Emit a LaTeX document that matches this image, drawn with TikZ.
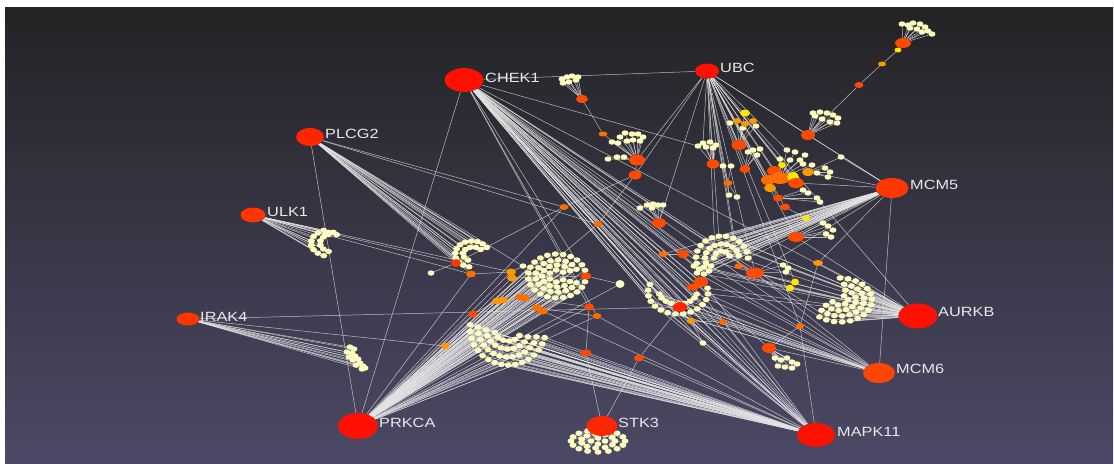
\documentclass[tikz,border=0pt]{standalone}
\usepackage{fontspec}
\newfontfamily\labfont{Liberation Sans}
\usetikzlibrary{shapes.geometric}
\pgfdeclarelayer{back}
\pgfdeclarelayer{edges}
\pgfsetlayers{back,edges,main}

\definecolor{leafc}{HTML}{FFFCC0}
\definecolor{redA}{HTML}{FF1000}
\definecolor{redB}{HTML}{FF2600}
\definecolor{redC}{HTML}{FF3600}
\definecolor{redD}{HTML}{FF4600}
\definecolor{orred}{HTML}{FF4A00}
\definecolor{orng}{HTML}{FF6C00}
\definecolor{amber}{HTML}{FF9800}
\definecolor{yel}{HTML}{FFE600}
\definecolor{edgec}{HTML}{E4E4E4}
\definecolor{labc}{HTML}{E8E8E8}
\definecolor{bgtop}{HTML}{232325}
\definecolor{bgbot}{HTML}{4C4966}

\tikzset{
  nd/.style 2 args={ellipse, inner sep=0pt, minimum width=#1*0.85pt, minimum height=#2*0.85pt},
  leaf/.style={nd={7}{5.5}, fill=leafc},
  edge/.style={draw=edgec, line width=0.42pt, opacity=0.78},
  lbl/.style={anchor=west, inner sep=0pt, text=labc, font=\labfont\fontsize{11.4}{13}\selectfont},
}

% label text, widened like the stretched layout
\newcommand\hlab[1]{\scalebox{1.22}[1]{#1}}
% a row of leaves along an elliptic arc: prefix, cx, cy, rx, ry, from, to, count
\newcommand\leafarc[8]{%
  \foreach \j in {1,...,#8}{%
    \pgfmathsetmacro\ang{#6+(#7-(#6))*(\j-1)/(#8-1)}%
    \node[leaf] (#1-\j) at ({#2+#4*cos(\ang)},{#3+#5*sin(\ang)}) {};
  }}
% edges from one node to a numbered group
\newcommand\fan[3]{\foreach \j in {1,...,#3}{\draw[edge] (#1) -- (#2-\j);}}

\begin{document}
\begin{tikzpicture}[x=0.03cm, y=-0.03cm]
\useasboundingbox (0,0) rectangle (1114,463);
\begin{pgfonlayer}{back}
  \fill[white] (0,0) rectangle (1114,463);
  \shade[top color=bgtop, bottom color=bgbot] (5,7) rectangle (1113,463);
\end{pgfonlayer}

% ---------- leaf groups ----------
% ULK1 group
\leafarc{A}{333}{243}{22}{14}{115}{245}{8}
\leafarc{Aa}{333}{243}{13}{9}{110}{250}{6}
\leafarc{Ab}{331}{236}{6}{4}{200}{340}{4}
% IRAK4 group
\foreach \x/\y [count=\i] in {350/347,354/349,347/352,352/353,355/356,349/357,353/360,358/359,360/363,356/365,363/366,362/369,365/368}
  \node[leaf] (B-\i) at (\x,\y) {};
% PLCG2 group
\leafarc{C}{472}{254}{17}{13}{100}{330}{12}
\leafarc{Ca}{473}{254}{10}{7}{120}{320}{7}
% ring group
\leafarc{D}{557}{276}{29}{22}{15}{345}{22}
\leafarc{Da}{557}{276}{21.5}{16}{25}{335}{16}
\leafarc{Dc}{557}{276}{15}{11}{30}{330}{11}
\leafarc{Db}{557}{276}{8}{6}{40}{320}{6}
% crescent towards MAPK11
\leafarc{E}{508}{328}{38}{37}{15}{185}{17}
\leafarc{Ea}{508}{328}{30}{29}{18}{182}{14}
\leafarc{Ec}{508}{328}{22}{21}{25}{175}{10}
\leafarc{Eb}{508}{328}{14}{13}{35}{160}{6}
% group under CHEK1 fan
\leafarc{F}{678}{292}{30}{22}{-10}{200}{15}
\leafarc{Fa}{678}{292}{19}{12}{10}{170}{9}
% MCM5 group
\leafarc{G}{722}{258}{26}{22}{150}{360}{14}
\leafarc{Ga}{722}{258}{17}{14}{160}{350}{10}
\leafarc{Gb}{722}{258}{8}{7}{180}{340}{5}
\foreach \x/\y [count=\i] in {694/266,699/269,704/267,709/271,697/273,704/274,711/266}
  \node[leaf] (Gc-\i) at (\x,\y) {};
% AURKB group
\leafarc{H}{840}{300}{32}{22}{-90}{130}{16}
\leafarc{Ha}{840}{300}{24}{16}{-80}{140}{13}
\leafarc{Hc}{840}{300}{16}{10.5}{-70}{150}{9}
\leafarc{Hb}{840}{300}{8}{5}{-60}{160}{5}
% STK3 group
\leafarc{I}{598}{441}{27}{11}{0}{337.5}{16}
\leafarc{Ia}{598}{441}{17}{7}{0}{327}{11}
\leafarc{Ib}{598}{441}{7}{3}{0}{270}{4}
% small groups
\foreach \x/\y [count=\i] in {902/24,908/25,913/23,920/24,925/27,928/31,932/34,922/32,917/29,910/28}
  \node[leaf] (TR-\i) at (\x,\y) {};
\foreach \x/\y [count=\i] in {813/113,820/112,827/113,833/115,838/118,837/123,830/122,822/119,815/116}
  \node[leaf] (K-\i) at (\x,\y) {};
\foreach \x/\y [count=\i] in {562/79,567/77,572/76,578/77,563/83,569/82,576/80}
  \node[leaf] (CU-\i) at (\x,\y) {};
\foreach \x/\y [count=\i] in {612/142,620/137,625/133,632/134,638/134,643/137,640/141,633/140,627/141,618/143,608/159,617/157,624/157}
  \node[leaf] (J-\i) at (\x,\y) {};
\foreach \x/\y [count=\i] in {730/123,743/128,756/126}
  \node[leaf] (UA-\i) at (\x,\y) {};
\foreach \x/\y [count=\i] in {698/146,703/143,710/142,716/145,706/147,713/148}
  \node[leaf] (UB-\i) at (\x,\y) {};
\foreach \x/\y [count=\i] in {748/152,753/150,760/149,757/155}
  \node[leaf] (UC-\i) at (\x,\y) {};
\foreach \x/\y [count=\i] in {723/166,731/166,729/195,737/197}
  \node[leaf] (UD-\i) at (\x,\y) {};
\foreach \x/\y [count=\i] in {787/150,795/152,805/155,780/159,790/160,800/160,803/164,812/165,825/168,830/172,828/177,817/173,803/190,808/193,817/198,820/202,841/157,823/223,828/226,833/230,826/234,831/237}
  \node[leaf] (UE-\i) at (\x,\y) {};
\foreach \x/\y [count=\i] in {640/208,647/205,653/204,658/205,663/205,652/208}
  \node[leaf] (CL-\i) at (\x,\y) {};
\foreach \x/\y [count=\i] in {775/358,781/360,787/358,792/362,778/366,785/367,792/368,797/364}
  \node[leaf] (CM-\i) at (\x,\y) {};
\node[leaf] (L1) at (431,273) {};
\node[leaf] (L2) at (523,266) {};
\node[nd={9}{8}, fill=leafc] (L3) at (620,284) {};
\node[leaf] (L4) at (703,343) {};
\node[leaf] (L5) at (783,265) {};
\node[leaf] (L6) at (788,268) {};
\node[leaf] (L7) at (786,272) {};

% ---------- intermediate nodes ----------
\node[nd={16}{10}, fill=orred] (tr0) at (903,43) {};
\node[nd={7}{5}, fill=yel] (tr1) at (898,50) {};
\node[nd={8}{5}, fill=amber] (tr2) at (882,64) {};
\node[nd={9}{6}, fill=orred] (tr3) at (859,85) {};
\node[nd={14}{10}, fill=orred] (k0) at (808,135) {};
\node[nd={12}{8}, fill=orred] (o1) at (582,99) {};
\node[nd={9}{5}, fill=orng] (o2) at (603,134) {};
\node[nd={16}{11}, fill=orred] (o3) at (637,160) {};
\node[nd={13}{9}, fill=orred] (o4) at (635,175) {};
\node[nd={10}{7}, fill=yel] (u1) at (745,113) {};
\node[nd={8}{6}, fill=amber] (u2) at (737,121) {};
\node[nd={8}{6}, fill=amber] (u3) at (745,124) {};
\node[nd={8}{6}, fill=amber] (u4) at (753,121) {};
\node[nd={15}{10}, fill=orred] (u5) at (739,145) {};
\node[nd={13}{9}, fill=orred] (u6) at (713,164) {};
\node[nd={11}{8}, fill=orred] (u7) at (745,169) {};
\node[nd={9}{6}, fill=orng] (u8) at (728,183) {};
\node[nd={8}{6}, fill=yel] (u9) at (782,165) {};
\node[nd={14}{10}, fill=orred] (u10) at (774,171) {};
\node[nd={14}{10}, fill=orng] (u11) at (768,180) {};
\node[nd={20}{12}, fill=orng] (u12) at (780,178) {};
\node[nd={12}{10}, fill=yel] (u13) at (793,177) {};
\node[nd={16}{10}, fill=orred] (u14) at (796,183) {};
\node[nd={12}{8}, fill=amber] (u15) at (808,172) {};
\node[nd={12}{8}, fill=amber] (u16) at (770,188) {};
\node[nd={10}{7}, fill=orred] (u17) at (778,198) {};
\node[nd={10}{7}, fill=orred] (u18) at (785,207) {};
\node[nd={8}{6}, fill=yel] (u19) at (806,218) {};
\node[nd={16}{10}, fill=orred] (u20) at (796,237) {};
\node[nd={9}{6}, fill=orng] (c1) at (564,207) {};
\node[nd={9}{6}, fill=orng] (c2) at (598,224) {};
\node[nd={14}{10}, fill=orred] (c3) at (659,223) {};
\node[nd={9}{6}, fill=orng] (c4) at (663,254) {};
\node[nd={12}{8}, fill=orred] (c5) at (683,254) {};
\node[nd={10}{8}, fill=redC] (c6) at (456,263) {};
\node[nd={10}{7}, fill=orng] (c7) at (471,274) {};
\node[nd={10}{7}, fill=amber] (c8a) at (511,272) {};
\node[nd={10}{7}, fill=amber] (c8b) at (512,278) {};
\node[nd={11}{7}, fill=orred] (c9) at (586,276) {};
\node[nd={10}{7}, fill=amber] (c10a) at (497,301) {};
\node[nd={10}{7}, fill=amber] (c10b) at (503,300) {};
\node[nd={10}{7}, fill=orng] (c11a) at (520,297) {};
\node[nd={10}{7}, fill=orng] (c11b) at (525,298) {};
\node[nd={10}{7}, fill=orng] (c12a) at (537,308) {};
\node[nd={10}{7}, fill=orng] (c12b) at (543,311) {};
\node[nd={10}{7}, fill=orred] (c13) at (589,307) {};
\node[nd={9}{6}, fill=orng] (c14) at (597,316) {};
\node[nd={9}{7}, fill=orred] (c15) at (473,314) {};
\node[nd={8}{7}, fill=amber] (c16) at (445,346) {};
\node[nd={11}{7}, fill=orred] (c17) at (586,353) {};
\node[nd={10}{7}, fill=orred] (c18) at (639,358) {};
\node[nd={12}{7}, fill=orred] (c19) at (693,287) {};
\node[nd={14}{10}, fill=orred] (c20) at (701,282) {};
\node[nd={9}{6}, fill=amber] (c21) at (691,321) {};
\node[nd={14}{10}, fill=redB] (fhub) at (680,307) {};
\node[nd={9}{6}, fill=orng] (c22) at (739,266) {};
\node[nd={18}{11}, fill=orred] (c23) at (755,273) {};
\node[nd={10}{6}, fill=amber] (c25) at (818,263) {};
\node[nd={8}{7}, fill=yel] (c26a) at (795,282) {};
\node[nd={8}{7}, fill=yel] (c26b) at (790,288) {};
\node[nd={8}{6}, fill=orng] (c27) at (723,322) {};
\node[nd={8}{6}, fill=orng] (c28) at (800,326) {};
\node[nd={14}{10}, fill=orred] (c29) at (769,348) {};

% ---------- labelled proteins ----------
\node[nd={39}{24}, fill=redA] (chek) at (464,80) {};
\node[nd={24}{15}, fill=redA] (ubc) at (707,71) {};
\node[nd={28}{18}, fill=redB] (plcg) at (310,137) {};
\node[nd={25}{15}, fill=redC] (ulk) at (253,215) {};
\node[nd={23}{13}, fill=redC] (irak) at (188,319) {};
\node[nd={40}{26}, fill=redA] (prkca) at (358,426) {};
\node[nd={31}{20}, fill=redB] (stk) at (602,426) {};
\node[nd={38}{24}, fill=redA] (mapk) at (816,435) {};
\node[nd={39}{25}, fill=redA] (aurkb) at (918,316) {};
\node[nd={32}{20}, fill=redD] (mcmsix) at (879,373) {};
\node[nd={33}{20}, fill=redC] (mcmfive) at (892,188) {};

\node[lbl] (chek-t) at (485,78) {\hlab{CHEK1}};
\node[lbl] (ubc-t) at (720,68) {\hlab{UBC}};
\node[lbl] (plcg-t) at (325,134) {\hlab{PLCG2}};
\node[lbl] (ulk-t) at (267,212) {\hlab{ULK1}};
\node[lbl] (irak-t) at (200,317) {\hlab{IRAK4}};
\node[lbl] (prkca-t) at (379,423) {\hlab{PRKCA}};
\node[lbl] (stk-t) at (618,423) {\hlab{STK3}};
\node[lbl] (mapk-t) at (837,432) {\hlab{MAPK11}};
\node[lbl] (aurkb-t) at (938,312) {\hlab{AURKB}};
\node[lbl] (mcmsix-t) at (896,369) {\hlab{MCM6}};
\node[lbl] (mcmfive-t) at (910,185) {\hlab{MCM5}};

% ---------- interactions ----------
\begin{pgfonlayer}{edges}
  % top right chain
  \fan{tr0}{TR}{10}
  \draw[edge] (tr0) -- (tr1); \draw[edge] (tr1) -- (tr2);
  \draw[edge] (tr2) -- (tr3); \draw[edge] (tr3) -- (k0);
  \fan{k0}{K}{9}
  \draw[edge] (ubc) -- (k0); \draw[edge] (k0) -- (mcmfive);
  % CHEK1 -- UBC and the groups between them
  \draw[edge] (chek) -- (ubc);
  \fan{o1}{CU}{7}
  \draw[edge] (o1) -- (o2); \draw[edge] (o2) -- (o3);
  \fan{o3}{J}{13}
  \draw[edge] (o3) -- (o4);
  \draw[edge] (ubc) -- (o3); \draw[edge] (ubc) -- (o4);
  \draw[edge] (o4) -- (c1); \draw[edge] (o4) -- (c2);
  % UBC spread
  \foreach \n in {u5,u6,u7,u8,u10,u11,u12,u14,u16,u17,u18,u20,c23,c3,c22,UB-2,UB-4,UD-3,UE-1,mcmfive,aurkb,c28,c26a,G-8,G-10,Ga-5,u9,u13}
    \draw[edge] (ubc) -- (\n);
  \foreach \n in {u1,u2,u3,u4,UA-1,UA-2,UA-3}
    \draw[edge] (u5) -- (\n);
  \fan{u6}{UB}{6}
  \fan{u7}{UC}{4}
  \fan{u8}{UD}{4}
  \foreach \j in {1,...,8} \draw[edge] (u12) -- (UE-\j);
  \foreach \j in {9,...,12} \draw[edge] (u15) -- (UE-\j);
  \foreach \j in {13,...,16} \draw[edge] (u17) -- (UE-\j);
  \foreach \j in {18,...,22} \draw[edge] (u20) -- (UE-\j);
  \draw[edge] (u9) -- (u10); \draw[edge] (u11) -- (u16);
  \draw[edge] (u18) -- (u19); \draw[edge] (UE-17) -- (u15);
  \foreach \n in {u15,u14,u20,UE-17,c23,c5,c4,u19,c25}
    \draw[edge] (mcmfive) -- (\n);
  \fan{c3}{CL}{6}
  \draw[edge] (c4) -- (c5);
  % CHEK1 spread
  \fan{chek}{F}{15}
  \fan{chek}{Fa}{9}
  \foreach \n in {fhub,mcmsix,aurkb,mapk,prkca,UB-1,c3,c5,c4,c23,c29,c20,c19,c9,c13,c14,c2,Gc-1,Gc-4,H-14,H-16,G-1,G-3,Ga-1,c21,c27,L4}
    \draw[edge] (chek) -- (\n);
  % MCM6
  \foreach \j in {2,4,...,14} \draw[edge] (mcmsix) -- (F-\j);
  \foreach \j in {1,3,...,9} \draw[edge] (mcmsix) -- (Fa-\j);
  \foreach \n in {mcmfive,c23,Gc-2,Gc-5,Gc-7,c29,c27}
    \draw[edge] (mcmsix) -- (\n);
  % MAPK11
  \fan{mapk}{E}{17}
  \fan{mapk}{Ea}{14}
  \fan{mapk}{Ec}{10}
  \fan{mapk}{Eb}{6}
  \foreach \j in {1,3,...,15} \draw[edge] (mapk) -- (F-\j);
  \foreach \j in {2,4,...,8} \draw[edge] (mapk) -- (Fa-\j);
  \foreach \n in {c18,c28,c27,c21,fhub,c12b,c14}
    \draw[edge] (mapk) -- (\n);
  % PRKCA
  \fan{prkca}{D}{22}
  \fan{prkca}{Da}{16}
  \fan{prkca}{Dc}{11}
  \fan{prkca}{Db}{6}
  \foreach \j in {1,3,...,17} \draw[edge] (prkca) -- (E-\j);
  \foreach \j in {2,4,...,14} \draw[edge] (prkca) -- (Ea-\j);
  \foreach \n in {plcg,c15,c16,c10a,c10b,c11a,c12a,c13,c1,c2,c9,L3,c14,c8b,c8a,c7}
    \draw[edge] (prkca) -- (\n);
  % PLCG2
  \fan{plcg}{C}{12}
  \fan{plcg}{Ca}{7}
  \foreach \n in {c1,c6,c2,c7,L2}
    \draw[edge] (plcg) -- (\n);
  % ULK1
  \fan{ulk}{A}{8}
  \fan{ulk}{Aa}{6}
  \fan{ulk}{Ab}{4}
  \foreach \n in {c6,c7,c8a}
    \draw[edge] (ulk) -- (\n);
  % IRAK4
  \fan{irak}{B}{13}
  \draw[edge] (irak) -- (fhub); \draw[edge] (irak) -- (c16);
  % STK3
  \fan{stk}{I}{16}
  \fan{stk}{Ia}{11}
  \fan{stk}{Ib}{4}
  \draw[edge] (stk) -- (c17); \draw[edge] (stk) -- (c18);
  % MCM5 group
  \fan{mcmfive}{G}{14}
  \fan{mcmfive}{Ga}{10}
  \fan{mcmfive}{Gb}{5}
  \fan{mcmfive}{Gc}{7}
  % AURKB
  \fan{aurkb}{H}{16}
  \fan{aurkb}{Ha}{13}
  \fan{aurkb}{Hc}{9}
  \fan{aurkb}{Hb}{5}
  \foreach \j in {1,3,...,13} \draw[edge] (aurkb) -- (G-\j);
  \foreach \n in {Gc-1,Gc-3,Gc-6,F-1,F-2,u20,c25,c23,c26b,L6}
    \draw[edge] (aurkb) -- (\n);
  % remaining links
  \draw[edge] (c6) -- (L1); \draw[edge] (c7) -- (c8a);
  \draw[edge] (c8b) -- (c9); \draw[edge] (c9) -- (L3);
  \draw[edge] (L2) -- (c8a); \draw[edge] (c17) -- (c13);
  \draw[edge] (c18) -- (fhub); \draw[edge] (c29) -- (c28);
  \fan{c29}{CM}{8}
  \draw[edge] (c28) -- (c25); \draw[edge] (c27) -- (c21);
  \draw[edge] (c21) -- (L4); \draw[edge] (c22) -- (c23);
  \foreach \n in {L5,L7,c26a} \draw[edge] (c23) -- (\n);
  \draw[edge] (c19) -- (c20); \draw[edge] (c20) -- (Gc-5);
  \draw[edge] (c6) -- (c1); \draw[edge] (c15) -- (c10a);
  \draw[edge] (c12a) -- (c14); \draw[edge] (c11b) -- (c13);
\end{pgfonlayer}
\end{tikzpicture}
\end{document}
